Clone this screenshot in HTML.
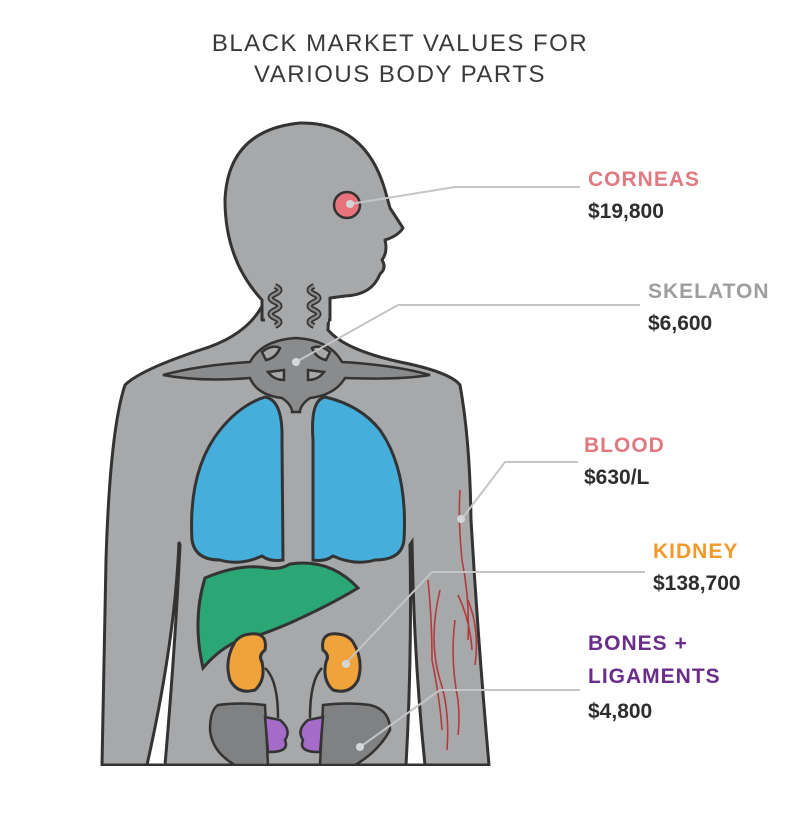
<!DOCTYPE html>
<html><head><meta charset="utf-8"><style>
html,body{margin:0;padding:0;background:#fff;}
svg{display:block;}
text{font-family:"Liberation Sans",sans-serif;font-weight:bold;}
</style></head><body>
<svg width="800" height="813" viewBox="0 0 800 813" xmlns="http://www.w3.org/2000/svg">
<rect width="800" height="813" fill="#fff"/>
<text x="400" y="51" text-anchor="middle" font-size="24" fill="#3a3a3c" letter-spacing="1.5" style="font-weight:normal">BLACK MARKET VALUES FOR</text>
<text x="400" y="82" text-anchor="middle" font-size="24" fill="#3a3a3c" letter-spacing="1.5" style="font-weight:normal">VARIOUS BODY PARTS</text>

<g stroke="#333" stroke-width="3" stroke-linejoin="round">
<path d="M102,765 L106,560 Q110,430 125,385 Q140,370 200,350 Q250,335 265,300 L262,290 L330,290 L328,330 Q345,350 400,362 Q450,372 460,385 Q470,440 471,520 Q478,640 489,765 Z" fill="#a7a8aa"/>
<path d="M262,300 Q225,260 225,200 Q228,130 300,123 Q365,122 385,190 L390,208 L403,228 Q398,236 385,240 Q388,252 382,260 Q387,268 380,274 Q372,295 345,296 L330,298 L330,320 L262,320 Z" fill="#a7a8aa"/>
</g>
<rect x="265" y="290" width="63" height="32" fill="#a7a8aa"/>
<path d="M179,542 Q175,640 147,765 L165,765 Q175,650 180,545 Z" fill="#fff" stroke="#333" stroke-width="3"/>
<path d="M412,542 Q414,660 425,765 L406,765 Q412,660 410,545 Z" fill="#fff" stroke="#333" stroke-width="3"/>
<rect x="95" y="766" width="400" height="50" fill="#fff"/>
<!-- skeleton -->
<g fill="#8a8b8d" stroke="#333" stroke-width="2.5">
<path d="M163,375 Q200,365 250,362 Q262,340 296,338 Q330,340 342,362 Q395,365 430,375 Q400,380 345,378 Q335,395 310,398 Q300,405 300,412 L292,412 Q292,405 282,398 Q257,395 250,378 Q200,382 163,375 Z"/>
<path d="M275,286 q9,4 0,8 q-9,4 0,8 q9,4 0,8 q-9,4 0,8 q9,4 0,8 M314,286 q-9,4 0,8 q9,4 0,8 q-9,4 0,8 q9,4 0,8 q-9,4 0,8" fill="none" stroke-width="6"/>
<path d="M275,286 q9,4 0,8 q-9,4 0,8 q9,4 0,8 q-9,4 0,8 q9,4 0,8 M314,286 q-9,4 0,8 q9,4 0,8 q-9,4 0,8 q9,4 0,8 q-9,4 0,8" fill="none" stroke="#8a8b8d" stroke-width="2.5"/>
<path d="M262,352 q10,-8 18,-4 q-4,10 -14,12 Z M330,352 q-10,-8 -18,-4 q4,10 14,12 Z M268,372 q6,8 16,8 v-10 Z M324,372 q-6,8 -16,8 v-10 Z" fill="#a7a8aa"/>
</g>
<g stroke="#333" stroke-width="3" fill="#45aedb">
<path d="M265,397 Q283,400 282,440 L283,560 Q270,562 262,556 Q240,566 220,560 Q195,560 192,540 Q188,470 220,430 Q240,405 265,397 Z"/>
<path d="M325,397 Q310,400 313,440 L313,560 Q325,562 333,556 Q355,566 375,560 Q402,560 404,540 Q408,470 380,430 Q360,405 325,397 Z"/>
</g>
<path d="M205,578 Q240,563 268,568 Q280,570 290,564 Q330,558 358,588 Q330,605 290,623 Q255,638 240,640 Q220,648 203,668 Q192,620 205,578 Z" fill="#2aa774" stroke="#333" stroke-width="3"/>
<path d="M265,668 Q278,680 278,718 M322,668 Q310,680 310,718" stroke="#333" stroke-width="2.5" fill="none"/>
<g fill="#f0a33a" stroke="#333" stroke-width="3">
<path d="M250,634 Q268,632 265,650 Q258,655 262,662 Q266,680 255,690 Q238,695 230,680 Q224,660 235,642 Q240,635 250,634 Z"/>
<path d="M338,634 Q320,632 323,650 Q330,655 326,662 Q322,680 333,690 Q350,695 358,680 Q364,660 353,642 Q348,635 338,634 Z"/>
</g>
<g stroke="#333" stroke-width="2.5">
<path d="M218,705 Q240,702 265,705 L268,765 L235,765 Q212,752 210,730 Q210,710 218,705 Z" fill="#808183"/>
<path d="M370,705 Q348,702 323,705 L320,765 L355,765 Q378,752 390,730 Q390,710 370,705 Z" fill="#808183"/>
<path d="M265,717 L280,720 Q292,730 285,740 Q290,752 270,752 L268,752 Z" fill="#a56bc9"/>
<path d="M323,717 L308,720 Q296,730 303,740 Q298,752 318,752 L320,752 Z" fill="#a56bc9"/>
</g>
<rect x="200" y="766" width="200" height="20" fill="#fff"/>
<g stroke="#b33a3e" stroke-width="1.6" fill="none">
<path d="M460,490 Q458,520 462,560 Q470,600 468,640 M428,580 Q432,620 432,660 Q440,700 442,730 M440,590 Q428,640 440,680 Q450,710 447,750 M455,620 Q450,660 458,700 Q460,720 458,735 M468,600 Q480,630 475,665 M458,595 Q470,620 472,650"/>
</g>
<circle cx="347" cy="205" r="13" fill="#e8737b" stroke="#333" stroke-width="2.5"/>
<g stroke="#c4c5c7" stroke-width="2" fill="none">
<path d="M350,204 L455,187 L580,187"/>
<path d="M296,362 L398,305 L640,305"/>
<path d="M461,520 L505,462 L578,462"/>
<path d="M346,663 L432,572 L645,572"/>
<path d="M360,747 L440,690 L580,690"/>
</g>
<g fill="#d5d6d8"><circle cx="350" cy="204" r="4"/><circle cx="296" cy="362" r="4"/><circle cx="461" cy="519" r="4"/><circle cx="346" cy="664" r="4"/><circle cx="360" cy="747" r="4"/></g>
<text x="588" y="186" font-size="21" fill="#e07a80" letter-spacing="1">CORNEAS</text>
<text x="588" y="218" font-size="21" fill="#2e2e30">$19,800</text>
<text x="648" y="298" font-size="21" fill="#9d9ea0" letter-spacing="1">SKELATON</text>
<text x="648" y="330" font-size="21" fill="#2e2e30">$6,600</text>
<text x="584" y="452" font-size="21" fill="#e07a80" letter-spacing="1">BLOOD</text>
<text x="584" y="484" font-size="21" fill="#2e2e30">$630/L</text>
<text x="653" y="558" font-size="21" fill="#f09a2a" letter-spacing="1">KIDNEY</text>
<text x="653" y="590" font-size="21" fill="#2e2e30">$138,700</text>
<text x="588" y="650" font-size="21" fill="#6a2d8a" letter-spacing="1">BONES +</text>
<text x="588" y="683" font-size="21" fill="#6a2d8a" letter-spacing="1">LIGAMENTS</text>
<text x="588" y="718" font-size="21" fill="#2e2e30">$4,800</text>
</svg>
</body></html>
